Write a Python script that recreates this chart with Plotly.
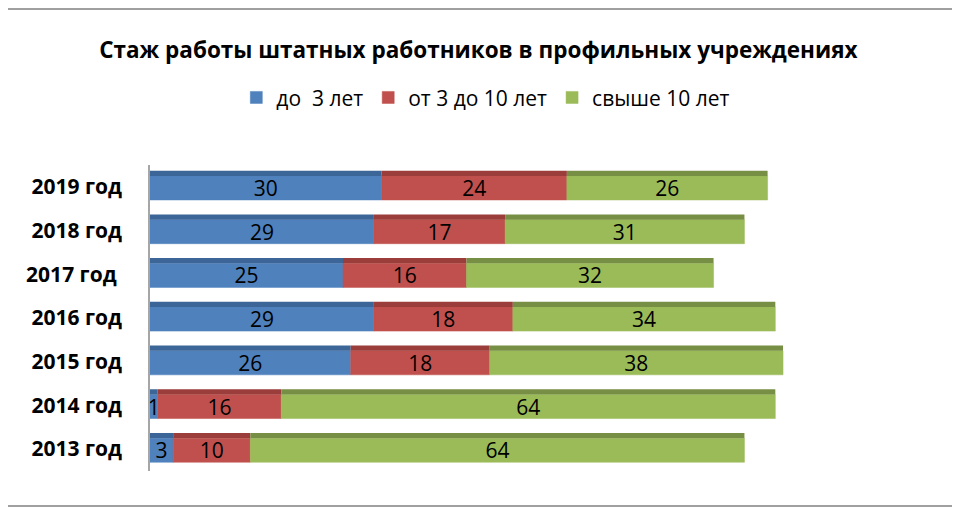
import numpy as np
import plotly.graph_objects as go

years = ['2013 год', '2014 год', '2015 год', '2016 год', '2017 год\u00a0', '2018 год', '2019 год']
series_names = ['до  3 лет', 'от 3 до 10 лет', 'свыше 10 лет']
up_to_3 = [3, 1, 26, 29, 25, 29, 30]
from_3_to_10 = [10, 16, 18, 18, 16, 17, 24]
over_10 = [64, 64, 38, 34, 32, 31, 26]

front_colors = ['#4f81bd', '#c0504d', '#9bbb59']
top_colors = ['#3d6698', '#9a3d3b', '#778f44']

values = [up_to_3, from_3_to_10, over_10]
bases = np.cumsum([[0] * len(years)] + values[:-1], axis=0)

FONT = 'Open Sans'

fig = go.Figure()

for name, vals, base, fc, tc in zip(series_names, values, bases, front_colors, top_colors):
    # front face of the bar
    fig.add_trace(go.Bar(y=years, x=vals, base=base, orientation='h', name=name,
                         marker=dict(color=fc, line=dict(color=fc, width=0.5)),
                         width=0.55, offset=-0.3,
                         text=[str(v) for v in vals], textposition='inside',
                         insidetextanchor='middle', textangle=0,
                         textfont=dict(size=21, color='black', family=FONT),
                         cliponaxis=False))
    # darker strip on top to fake the 3-D look
    fig.add_trace(go.Bar(y=years, x=vals, base=base, orientation='h', showlegend=False,
                         marker=dict(color=tc, line=dict(width=0)),
                         width=0.12, offset=0.25, hoverinfo='skip'))

fig.update_layout(
    width=960, height=510,
    barmode='overlay',
    plot_bgcolor='white', paper_bgcolor='white',
    margin=dict(l=142, r=46, t=157, b=47),
    font=dict(family=FONT, color='black'),
    title=dict(text='<b>Стаж работы штатных работников в профильных учреждениях</b>',
               x=0.49, xanchor='center', y=0.918, yanchor='middle',
               font=dict(size=22.5, family=FONT, color='black')),
    legend=dict(orientation='h', x=0.435, xanchor='center', y=0.824, yanchor='middle',
                yref='container', font=dict(size=21, family=FONT, color='black'),
                traceorder='normal', itemwidth=30),
    uniformtext=dict(minsize=21, mode='show'),
    shapes=[
        dict(type='line', xref='paper', yref='paper', x0=-0.2, x1=1.06, y0=1.51, y1=1.51,
             line=dict(color='#a0a0a0', width=2)),
        dict(type='line', xref='paper', yref='paper', x0=-0.2, x1=1.06, y0=-0.114, y1=-0.114,
             line=dict(color='#a0a0a0', width=2)),
    ],
)

fig.update_xaxes(range=[0, 100], visible=False)
fig.update_yaxes(type='category', categoryorder='array', categoryarray=years,
                 showline=True, linecolor='#a6a6a6', linewidth=1.5,
                 showgrid=False, ticks='', ticklabelstandoff=22,
                 tickfont=dict(size=21, family=FONT, color='black', weight='bold'))

fig.write_html('out.html')
